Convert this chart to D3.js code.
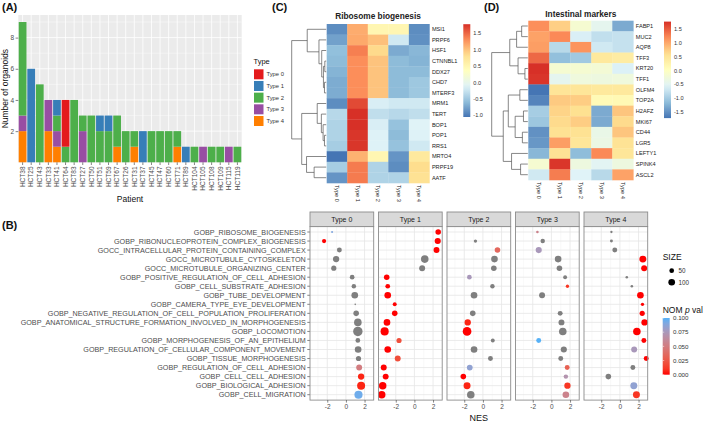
<!DOCTYPE html>
<html>
<head>
<meta charset="utf-8">
<script src="https://cdn.jsdelivr.net/npm/d3@7/dist/d3.min.js"></script>
<style>
  html,body{margin:0;padding:0;background:#fff;}
  svg{display:block;font-family:"Liberation Sans",Arial,Helvetica,sans-serif;}
</style>
</head>
<body>
<svg id="fig" width="709" height="424"></svg>
<script>
// ================= DATA =================
// Panel A
const patients = ["HCT38","HCT25","HCT43","HCT33","HCT41","HCT64","HCT83","HCT27","HCT50","HCT51","HCT59","HCT67","HCT26","HCT31","HCT37","HCT45","HCT47","HCT60","HCT71","HCT89","HCT104","HCT105","HCT108","HCT109","HCT115","HCT119"];
const typeNames = ["Type 0","Type 1","Type 2","Type 3","Type 4"];
const typeColors = ["#E41A1C","#377EB8","#4DAF4A","#984EA3","#FF7F00"];
const countType0 = [0,0,0,0,0,3,0,0,0,0,0,0,0,0,0,0,0,0,0,0,0,0,0,0,0,0];
const countType1 = [0,6,0,0,1,0,0,0,0,1,1,0,0,0,2,0,0,0,0,1,0,0,0,0,0,0];
const countType2 = [6,0,5,0,1,1,4,1,3,2,2,2,2,1,0,2,2,2,1,0,1,0,1,1,0,1];
const countType3 = [1,0,0,2,1,0,0,2,0,0,0,0,0,0,0,0,0,0,0,0,0,1,0,0,1,0];
const countType4 = [2,0,0,2,1,0,0,0,0,0,0,1,0,1,0,0,0,0,1,0,0,0,0,0,0,0];
const yTicksA = [2,4,6,8];

// Panel C
const genesC = ["MSI1","PRPF6","HSF1","CTNNBL1","DDX27","CHD7","MTERF3","MRM1","TERT","BOP1","POP1","RRS1","MRTO4","PRPF19","AATF"];
const heatC = [
  [-0.90, 1.13, 0.50, 0.50,-0.90],
  [-0.77, 1.15, 1.02,-0.20,-0.88],
  [-0.57, 1.38, 0.87,-0.71,-0.63],
  [-0.60, 1.30, 1.00,-0.60,-0.65],
  [-0.65, 1.30, 1.00,-0.60,-0.60],
  [-0.70, 1.30, 1.00,-0.60,-0.50],
  [-0.70, 1.30, 1.00,-0.60,-0.50],
  [-0.90, 1.65,-0.15,-0.20,-0.20],
  [-0.35, 1.78,-0.30,-0.35,-0.30],
  [-0.40, 1.78,-0.15,-0.55,-0.10],
  [-0.40, 1.75,-0.12,-0.60,-0.12],
  [-0.45, 1.75,-0.12,-0.55,-0.20],
  [-1.05, 1.10, 0.50,-0.85, 0.70],
  [-0.45, 1.40,-0.40,-0.90, 0.85],
  [-0.85, 1.40,-0.40,-0.40, 0.80]
];
// dendrogram: leaf = row index, node = [height, left, right]
const treeC = [1.0,
  [0.55, 0, [0.21, 1, [0.13, 2, [0.08, [0.04, 3, 4], [0.05, 5, 6]]]]],
  [0.71, [0.26, 7, [0.14, 8, [0.09, 9, [0.05, 10, 11]]]], [0.57, 12, [0.35, 13, 14]]]
];

// Panel D
const genesD = ["FABP1","MUC2","AQP8","TFF3","KRT20","TFF1","OLFM4","TOP2A","H2AFZ","MKI67","CD44","LGR5","LEFTY1","SPINK4","ASCL2"];
const heatD = [
  [ 1.18, 0.73,-0.15,-0.45,-1.30],
  [ 1.05, 1.22,-0.60,-0.78,-0.75],
  [ 1.08,-0.85, 1.15,-0.67,-0.75],
  [ 1.43,-1.12,-1.02, 0.45, 0.38],
  [ 1.78,-0.15,-0.15,-0.20,-0.58],
  [ 1.75,-0.46,-0.28,-0.30,-0.28],
  [-1.72, 0.52, 0.50, 0.45, 0.45],
  [-1.60, 0.77, 0.75, 0.13, 0.15],
  [-0.98, 0.70, 0.60,-1.30, 0.80],
  [-1.05, 0.65, 0.75,-1.30, 0.65],
  [-1.50, 0.58, 0.58,-0.38, 0.80],
  [-1.45, 1.08, 0.50,-0.35, 0.55],
  [-1.20, 0.55,-1.15, 1.22, 0.50],
  [-0.15, 1.74,-0.30,-0.50,-0.30],
  [-0.67, 1.30,-0.55,-0.85, 1.05]
];
const treeD = [1.0,
  [0.50, [0.31, [0.17, 0, 1], 2], [0.27, 3, [0.08, 4, 5]]],
  [0.68, [0.54, [0.22, 6, 7], [0.35, [0.12, 8, 9], [0.15, 10, 11]]], [0.45, 12, [0.20, 13, 14]]]
];
const heatPalette = ["#4575B4","#91BFDB","#E0F3F8","#FFFFBF","#FEE090","#FC8D59","#D73027"];
const heatLegendTicks = [-1.5,-1.0,-0.5,0,0.5,1.0,1.5];

// Panel B
const goTerms = [
  "GOBP_RIBOSOME_BIOGENESIS",
  "GOBP_RIBONUCLEOPROTEIN_COMPLEX_BIOGENESIS",
  "GOCC_INTRACELLULAR_PROTEIN_CONTAINING_COMPLEX",
  "GOCC_MICROTUBULE_CYTOSKELETON",
  "GOCC_MICROTUBULE_ORGANIZING_CENTER",
  "GOBP_POSITIVE_REGULATION_OF_CELL_ADHESION",
  "GOBP_CELL_SUBSTRATE_ADHESION",
  "GOBP_TUBE_DEVELOPMENT",
  "GOBP_CAMERA_TYPE_EYE_DEVELOPMENT",
  "GOBP_NEGATIVE_REGULATION_OF_CELL_POPULATION_PROLIFERATION",
  "GOBP_ANATOMICAL_STRUCTURE_FORMATION_INVOLVED_IN_MORPHOGENESIS",
  "GOBP_LOCOMOTION",
  "GOBP_MORPHOGENESIS_OF_AN_EPITHELIUM",
  "GOBP_REGULATION_OF_CELLULAR_COMPONENT_MOVEMENT",
  "GOBP_TISSUE_MORPHOGENESIS",
  "GOBP_REGULATION_OF_CELL_ADHESION",
  "GOBP_CELL_CELL_ADHESION",
  "GOBP_BIOLOGICAL_ADHESION",
  "GOBP_CELL_MIGRATION"
];
const nesType0 = [-1.48,-2.34,-0.70,-1.05,-1.30,0.67,0.85,0.95,1.00,1.10,1.28,1.28,1.28,1.31,1.35,1.42,1.63,1.63,1.35];
const sizeType0 = [10,40,55,90,60,50,45,100,6,70,130,200,50,100,60,80,90,145,150];
const pvalType0 = [0.09,0.0,null,null,null,null,null,null,null,null,null,null,null,null,null,0.05,0.005,0.005,0.095];
const nesType1 = [2.55,2.50,2.37,1.11,0.83,-2.97,-2.86,-2.86,-2.11,-2.11,-2.94,-3.19,-1.65,-2.86,-1.79,-3.29,-3.08,-3.40,-3.50];
const sizeType1 = [70,85,80,130,80,70,50,100,35,70,100,150,60,100,80,80,80,125,125];
const pvalType1 = [0,0,0,null,null,0,0,0,0,0,0,0,0.02,0,0.02,0,0,0,0];
const nesType2 = [null,-0.80,1.56,1.24,1.17,-1.45,1.02,-0.95,null,-1.09,-1.63,-1.70,1.06,-0.95,0.81,-1.41,-2.10,-1.70,-1.30];
const sizeType2 = [null,25,70,100,70,50,45,100,null,70,90,170,35,100,55,75,70,110,130];
const pvalType2 = [null,null,0.035,null,null,0.075,null,null,null,null,0.005,0,null,null,null,0.085,0,0.005,null];
const nesType3 = [-1.50,-0.93,-1.36,0.72,0.86,1.47,1.72,-1.00,null,0.94,1.08,1.22,-1.36,1.33,1.00,1.69,1.55,1.72,1.55];
const sizeType3 = [15,45,85,100,70,35,25,80,null,55,80,130,55,85,55,55,45,90,100];
const pvalType3 = [0.055,null,0.075,null,null,null,0.01,null,null,null,null,null,0.1,null,null,0.03,0.07,0.01,0.055];
const nesType4 = [-0.91,-0.91,-0.55,2.46,2.60,0.74,1.28,2.20,2.42,2.39,2.64,1.82,2.57,1.53,2.82,1.39,-1.24,1.49,1.77];
const sizeType4 = [12,20,55,110,80,15,15,100,25,60,90,130,55,80,55,55,70,110,110];
const pvalType4 = [null,null,null,0,0,null,null,0,0,0,0,0,0,0.075,0,null,null,0.085,0.01];
const nesTicks = [-2,0,2];
const nesMinorTicks = [-3,-1,1];
const sizeLegendValues = [50,100];
const pvalLegendTicks = [0.1,0.075,0.05,0.025,0];

// ================= DRAW =================
const FONT = '"Liberation Sans", Arial, Helvetica, sans-serif';
const svg = d3.select("#fig");
svg.append("rect").attr("width",709).attr("height",424).attr("fill","#fff");

function styleAxis(g, fs){
  g.attr("font-family",FONT).attr("font-size",fs);
  g.select(".domain").remove();
  g.selectAll(".tick line").attr("stroke","#333").attr("stroke-width",0.6);
  g.selectAll(".tick text").attr("fill","#4D4D4D");
}

// panel letters
[["(A)",2,11],["(C)",272,11],["(D)",484,11],["(B)",2,229]].forEach(([t,x,y])=>{
  svg.append("text").attr("x",x).attr("y",y).text(t)
    .attr("font-size",11).attr("font-weight","bold").attr("fill","#111");
});

// ---------- Panel A ----------
(function(){
  const L=18.3,R=241.7,T=15,B=162.3;
  const rows = patients.map((p,i)=>({patient:p,t0:countType0[i],t1:countType1[i],t2:countType2[i],t3:countType3[i],t4:countType4[i]}));
  const totals = rows.map(r=>r.t0+r.t1+r.t2+r.t3+r.t4);
  const x = d3.scaleBand().domain(patients).range([L,R]).paddingInner(0.1).paddingOuter(0.05);
  const y = d3.scaleLinear().domain([0,d3.max(totals)*1.05]).range([B,T]);
  const g = svg.append("g");
  g.append("rect").attr("x",L).attr("y",T).attr("width",R-L).attr("height",B-T).attr("fill","#EBEBEB");
  const minor = d3.range(1,10,2);
  g.selectAll(".mnr").data(minor).join("line").attr("x1",L).attr("x2",R)
    .attr("y1",d=>y(d)).attr("y2",d=>y(d)).attr("stroke","#fff").attr("stroke-width",0.4);
  g.selectAll(".mjr").data(yTicksA).join("line").attr("x1",L).attr("x2",R)
    .attr("y1",d=>y(d)).attr("y2",d=>y(d)).attr("stroke","#fff").attr("stroke-width",0.8);
  g.selectAll(".vg").data(patients).join("line")
    .attr("x1",d=>x(d)+x.bandwidth()/2).attr("x2",d=>x(d)+x.bandwidth()/2)
    .attr("y1",T).attr("y2",B).attr("stroke","#fff").attr("stroke-width",0.8);
  const keys=["t4","t3","t2","t1","t0"];
  const colorOf={t0:typeColors[0],t1:typeColors[1],t2:typeColors[2],t3:typeColors[3],t4:typeColors[4]};
  const stacked = d3.stack().keys(keys)(rows);
  g.selectAll(".ser").data(stacked).join("g").attr("fill",d=>colorOf[d.key])
    .selectAll("rect").data(d=>d.filter(s=>s[1]>s[0])).join("rect")
    .attr("x",d=>x(d.data.patient)).attr("width",x.bandwidth())
    .attr("y",d=>y(d[1])).attr("height",d=>y(d[0])-y(d[1]));
  const ya = g.append("g").attr("transform",`translate(${L},0)`)
    .call(d3.axisLeft(y).tickValues(yTicksA).tickSize(2.7).tickPadding(1.5));
  styleAxis(ya,6.5);
  const xa = g.append("g").attr("transform",`translate(0,${B})`)
    .call(d3.axisBottom(x).tickSize(2.7));
  styleAxis(xa,6.5);
  xa.selectAll(".tick text").attr("transform","rotate(-90)").attr("x",-4.2).attr("y",0)
    .attr("dy","0.35em").attr("text-anchor","end");
  g.append("text").attr("x",(L+R)/2).attr("y",202).attr("text-anchor","middle")
    .attr("font-size",8.5).attr("fill","#111").text("Patient");
  g.append("text").attr("transform",`translate(8,${(T+B)/2}) rotate(-90)`).attr("text-anchor","middle")
    .attr("font-size",8.5).attr("fill","#111").text("Number of organoids");
  // legend
  const lg = svg.append("g");
  lg.append("text").attr("x",253.5).attr("y",64).attr("font-size",7.5).attr("fill","#111").text("Type");
  const ly = d3.scalePoint().domain(typeNames).range([74.3,121]);
  lg.selectAll("rect").data(typeNames).join("rect")
    .attr("x",254).attr("y",d=>ly(d)-5).attr("width",9.5).attr("height",10)
    .attr("fill",(d,i)=>typeColors[i]);
  lg.selectAll(".lt").data(typeNames).join("text")
    .attr("x",266.5).attr("y",d=>ly(d)).attr("dy","0.35em")
    .attr("font-size",5.8).attr("fill","#333").text(d=>d);
})();

// ---------- Heatmaps C & D ----------
function drawHeatmap(cfg){
  const g = svg.append("g");
  const all = cfg.data.flat();
  const mn = d3.min(all), mx = d3.max(all);
  const color = d3.scaleLinear().domain(heatPalette.map((c,i)=>mn+i*(mx-mn)/6)).range(heatPalette);
  const x = d3.scaleBand().domain(typeNames).range([cfg.x0,cfg.x0+cfg.w]);
  const y = d3.scaleBand().domain(cfg.genes).range([cfg.y0,cfg.y0+cfg.h]);
  cfg.data.forEach((row,ri)=>{
    g.selectAll(null).data(row).join("rect")
      .attr("x",(d,ci)=>x(typeNames[ci])).attr("y",y(cfg.genes[ri]))
      .attr("width",x.bandwidth()+0.3).attr("height",y.bandwidth()+0.3)
      .attr("fill",d=>color(d));
  });
  g.selectAll(".rl").data(cfg.genes).join("text")
    .attr("x",cfg.x0+cfg.w+2.5).attr("y",d=>y(d)+y.bandwidth()/2).attr("dy","0.35em")
    .attr("font-size",5.6).attr("fill","#222").text(d=>d);
  g.selectAll(".cl").data(typeNames).join("text")
    .attr("transform",d=>`translate(${x(d)+x.bandwidth()/2},${cfg.y0+cfg.h+2}) rotate(90)`)
    .attr("dy","0.35em").attr("font-size",5.6).attr("fill","#222").text(d=>d);
  g.append("text").attr("x",cfg.x0+cfg.w/2).attr("y",cfg.titleY).attr("text-anchor","middle")
    .attr("font-size",8.3).attr("font-weight","bold").attr("fill","#222").text(cfg.title);
  // dendrogram
  const hx = d3.scaleLinear().domain([0,1]).range([cfg.x0-0.5,cfg.dendroLeft]);
  const yOf = i => y(cfg.genes[i])+y.bandwidth()/2;
  function rec(node){
    if(typeof node==="number") return {x:hx(0),y:yOf(node)};
    const a=rec(node[1]), b=rec(node[2]); const xx=hx(node[0]);
    g.append("path").attr("d",`M${a.x},${a.y}H${xx}V${b.y}H${b.x}`)
      .attr("fill","none").attr("stroke","#555").attr("stroke-width",0.7);
    return {x:xx,y:(a.y+b.y)/2};
  }
  rec(cfg.tree);
  // colour legend
  const ly = d3.scaleLinear().domain([mn,mx]).range([cfg.legBottom,cfg.legTop]);
  const gid = "grad"+cfg.id;
  const grad = svg.append("defs").append("linearGradient").attr("id",gid)
    .attr("x1",0).attr("y1",1).attr("x2",0).attr("y2",0);
  d3.range(0,1.0001,0.05).forEach(t=>grad.append("stop").attr("offset",t).attr("stop-color",color(mn+t*(mx-mn))));
  g.append("rect").attr("x",cfg.legX).attr("y",cfg.legTop).attr("width",7)
    .attr("height",cfg.legBottom-cfg.legTop).attr("fill",`url(#${gid})`);
  g.selectAll(".lgt").data(heatLegendTicks.filter(v=>v>=mn-0.001&&v<=mx)).join("text")
    .attr("x",cfg.legX+10).attr("y",d=>ly(d)).attr("dy","0.35em")
    .attr("font-size",5.6).attr("fill","#333").text(d=>d.toFixed(1));
}
drawHeatmap({id:"C",genes:genesC,data:heatC,tree:treeC,x0:326.7,w:102.7,y0:24,h:159,
  dendroLeft:291.7,title:"Ribosome biogenesis",titleY:19,legX:463.3,legTop:24.2,legBottom:117});
drawHeatmap({id:"D",genes:genesD,data:heatD,tree:treeD,x0:528.3,w:105,y0:20.7,h:159.3,
  dendroLeft:491.7,title:"Intestinal markers",titleY:17,legX:664,legTop:21.6,legBottom:118.1});

// ---------- Panel B ----------
(function(){
  const nesAll=[nesType0,nesType1,nesType2,nesType3,nesType4];
  const sizeAll=[sizeType0,sizeType1,sizeType2,sizeType3,sizeType4];
  const pvalAll=[pvalType0,pvalType1,pvalType2,pvalType3,pvalType4];
  const T=226.6,Bt=400.1,first=310,W=63.7,gap=4.8,stripTop=212;
  const y = d3.scalePoint().domain(goTerms).range([232,394.7]);
  const r = d3.scaleSqrt().domain([0,200]).range([0,4.7]);
  const pcol = d3.scaleLinear().domain([0,0.1]).range(["#FF0000","#56B1F7"]).interpolate(d3.interpolateLab);
  const g = svg.append("g");
  // y labels
  g.selectAll(".yl").data(goTerms).join("text")
    .attr("x",305.7).attr("y",d=>y(d)).attr("dy","0.35em").attr("text-anchor","end")
    .attr("font-size",7.2).attr("fill","#4D4D4D").text(d=>d);
  g.selectAll(".ytk").data(goTerms).join("line").attr("x1",307.3).attr("x2",first)
    .attr("y1",d=>y(d)).attr("y2",d=>y(d)).attr("stroke","#333").attr("stroke-width",0.6);
  typeNames.forEach((tn,i)=>{
    const left=first+i*(W+gap);
    const x=d3.scaleLinear().domain([-3.85,2.98]).range([left,left+W]);
    const f=g.append("g");
    f.append("rect").attr("x",left).attr("y",T).attr("width",W).attr("height",Bt-T).attr("fill","#fff");
    f.selectAll(".mn").data(nesMinorTicks).join("line").attr("x1",d=>x(d)).attr("x2",d=>x(d))
      .attr("y1",T).attr("y2",Bt).attr("stroke","#F2F2F2").attr("stroke-width",0.5);
    f.selectAll(".mj").data(nesTicks).join("line").attr("x1",d=>x(d)).attr("x2",d=>x(d))
      .attr("y1",T).attr("y2",Bt).attr("stroke","#E6E6E6").attr("stroke-width",0.8);
    f.selectAll(".hz").data(goTerms).join("line").attr("x1",left).attr("x2",left+W)
      .attr("y1",d=>y(d)).attr("y2",d=>y(d)).attr("stroke","#E6E6E6").attr("stroke-width",0.8);
    const pts = goTerms.map((t,k)=>({term:t,nes:nesAll[i][k],size:sizeAll[i][k],p:pvalAll[i][k]}))
      .filter(d=>d.nes!==null);
    f.selectAll("circle").data(pts).join("circle")
      .attr("cx",d=>x(d.nes)).attr("cy",d=>y(d.term)).attr("r",d=>r(d.size))
      .attr("fill",d=>d.p===null?"#7F7F7F":pcol(d.p));
    f.append("rect").attr("x",left).attr("y",T).attr("width",W).attr("height",Bt-T)
      .attr("fill","none").attr("stroke","#8C8C8C").attr("stroke-width",0.9);
    f.append("rect").attr("x",left).attr("y",stripTop).attr("width",W).attr("height",T-stripTop)
      .attr("fill","#D9D9D9").attr("stroke","#8C8C8C").attr("stroke-width",0.9);
    f.append("text").attr("x",left+W/2).attr("y",(stripTop+T)/2).attr("dy","0.35em")
      .attr("text-anchor","middle").attr("font-size",7).attr("fill","#1A1A1A").text(tn);
    const xa=f.append("g").attr("transform",`translate(0,${Bt})`)
      .call(d3.axisBottom(x).tickValues(nesTicks).tickFormat(d=>String(d)).tickSize(2.5).tickPadding(1.5));
    styleAxis(xa,6.5);
  });
  g.append("text").attr("x",first+(5*W+4*gap)/2).attr("y",420.5).attr("text-anchor","middle")
    .attr("font-size",9).attr("fill","#111").text("NES");
  // size legend
  const lg=svg.append("g");
  lg.append("text").attr("x",662.7).attr("y",259.5).attr("font-size",8.5).attr("fill","#111").text("SIZE");
  const sy=d3.scalePoint().domain(sizeLegendValues).range([270.7,282.3]);
  lg.selectAll("circle").data(sizeLegendValues).join("circle")
    .attr("cx",671.7).attr("cy",d=>sy(d)).attr("r",d=>r(d)).attr("fill","#000");
  lg.selectAll(".sl").data(sizeLegendValues).join("text")
    .attr("x",678.5).attr("y",d=>sy(d)).attr("dy","0.35em").attr("font-size",6.3).attr("fill","#333").text(d=>d);
  // p-value legend
  const pt=lg.append("text").attr("x",662.7).attr("y",312.5).attr("font-size",8.5).attr("fill","#111");
  pt.append("tspan").text("NOM ");
  pt.append("tspan").attr("font-style","italic").text("p");
  pt.append("tspan").text(" val");
  const py=d3.scaleLinear().domain([0,0.1]).range([374.7,318]);
  const grad=svg.append("defs").append("linearGradient").attr("id","pgrad")
    .attr("x1",0).attr("y1",1).attr("x2",0).attr("y2",0);
  d3.range(0,1.0001,0.1).forEach(t=>grad.append("stop").attr("offset",t).attr("stop-color",pcol(t*0.1)));
  lg.append("rect").attr("x",662.7).attr("y",py(0.1)).attr("width",7).attr("height",py(0)-py(0.1))
    .attr("fill","url(#pgrad)");
  lg.selectAll(".pt").data(pvalLegendTicks).join("line").attr("x1",662.7).attr("x2",664.2)
    .attr("y1",d=>py(d)).attr("y2",d=>py(d)).attr("stroke","#fff").attr("stroke-width",0.5);
  lg.selectAll(".pl").data(pvalLegendTicks).join("text")
    .attr("x",673).attr("y",d=>py(d)).attr("dy","0.35em").attr("font-size",6.2).attr("fill","#333")
    .text(d=>d.toFixed(3));
})();
</script>
</body>
</html>
